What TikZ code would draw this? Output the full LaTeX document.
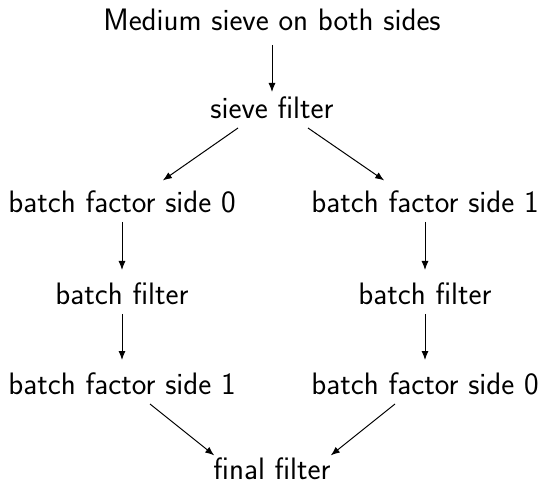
\documentclass[tikz,border=0pt]{standalone}
\usetikzlibrary{arrows.meta}
\begin{document}
\begin{tikzpicture}[x=1pt,y=-1pt,
  lbl/.style={font=\sffamily\fontsize{31}{36}\selectfont, inner sep=0pt, anchor=base},
  arr/.style={-{Latex[length=9pt,width=7pt]}, line width=1pt, shorten >=1pt}]
\useasboundingbox (0,0) rectangle (539,484);
\node[lbl] (top) at (272,31) {Medium sieve on both sides};
\node[lbl] (sf) at (272,119) {sieve filter};
\node[lbl] (l1) at (122,213) {batch factor side 0};
\node[lbl] (r1) at (425,213) {batch factor side 1};
\node[lbl] (l2) at (122,305) {batch filter};
\node[lbl] (r2) at (425,305) {batch filter};
\node[lbl] (l3) at (122,394) {batch factor side 1};
\node[lbl] (r3) at (425,394) {batch factor side 0};
\node[lbl] (ff) at (272,479) {final filter};
\coordinate (a0) at (272,45); \coordinate (a1) at (272,93);
\coordinate (b0) at (238,128); \coordinate (b1) at (162,181);
\coordinate (c0) at (308,128); \coordinate (c1) at (385,181);
\coordinate (d0) at (122,222); \coordinate (d1) at (122,271);
\coordinate (e0) at (425,222); \coordinate (e1) at (425,271);
\coordinate (f0) at (122,314); \coordinate (f1) at (122,361);
\coordinate (g0) at (425,314); \coordinate (g1) at (425,361);
\coordinate (h0) at (150,404); \coordinate (h1) at (215,456);
\coordinate (i0) at (395,404); \coordinate (i1) at (330,456);
\draw[arr] (a0) -- (a1);
\draw[arr] (b0) -- (b1);
\draw[arr] (c0) -- (c1);
\draw[arr] (d0) -- (d1);
\draw[arr] (e0) -- (e1);
\draw[arr] (f0) -- (f1);
\draw[arr] (g0) -- (g1);
\draw[arr] (h0) -- (h1);
\draw[arr] (i0) -- (i1);
\end{tikzpicture}
\end{document}
